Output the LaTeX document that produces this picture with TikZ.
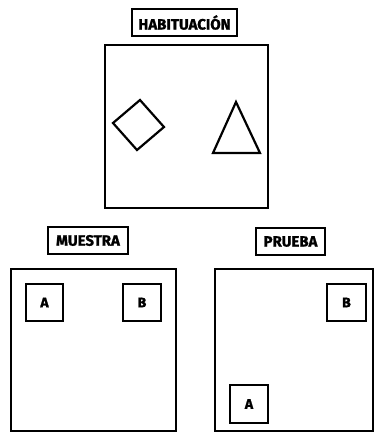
\documentclass[tikz,border=0pt]{standalone}
\usepackage{fontspec}
\setmainfont{Fira Sans}
\newfontfamily\heavyfont{Fira Sans}[BoldFeatures={FakeBold=1.3}]
\begin{document}
\begin{tikzpicture}[x=1pt,y=-1pt,
  title/.style={draw,line width=1.6pt,inner sep=0pt,font=\heavyfont\bfseries\fontsize{15}{16}\selectfont},
  panel/.style={draw,line width=2.6pt,inner sep=0pt},
  item/.style={draw,line width=2.2pt,inner sep=0pt,font=\heavyfont\bfseries\fontsize{14}{15}\selectfont}]
\useasboundingbox (0,0) rectangle (374,432);
% titles
\node[title,minimum width=105pt,minimum height=27pt] (th) at (184.5,22.5) {HABITUACIÓN};
\node[title,minimum width=80pt,minimum height=27pt] (tm) at (88,240.5) {MUESTRA};
\node[title,minimum width=69pt,minimum height=27pt] (tp) at (290.5,241.5) {PRUEBA};
% panels
\node[panel,minimum width=163pt,minimum height=163pt] (ph) at (186.5,126.5) {};
\node[panel,minimum width=165pt,minimum height=162pt] (pm) at (93.5,350) {};
\node[panel,minimum width=158pt,minimum height=162pt] (pp) at (294,350) {};
% habituation objects
\draw[line width=2.2pt,line join=miter] (113,123) -- (140,100) -- (164,127) -- (137,150) -- cycle;
\draw[line width=2.2pt,line join=miter] (236,102) -- (260,153) -- (213,153) -- cycle;
% sample objects
\node[item,minimum width=37pt,minimum height=37pt] (ma) at (44.5,302.5) {A};
\node[item,minimum width=38pt,minimum height=37pt] (mb) at (142,302.5) {B};
% test objects
\node[item,minimum width=39pt,minimum height=37pt] (pb) at (346.5,302.5) {B};
\node[item,minimum width=38pt,minimum height=38pt] (pa) at (249,404) {A};
\end{tikzpicture}
\end{document}
